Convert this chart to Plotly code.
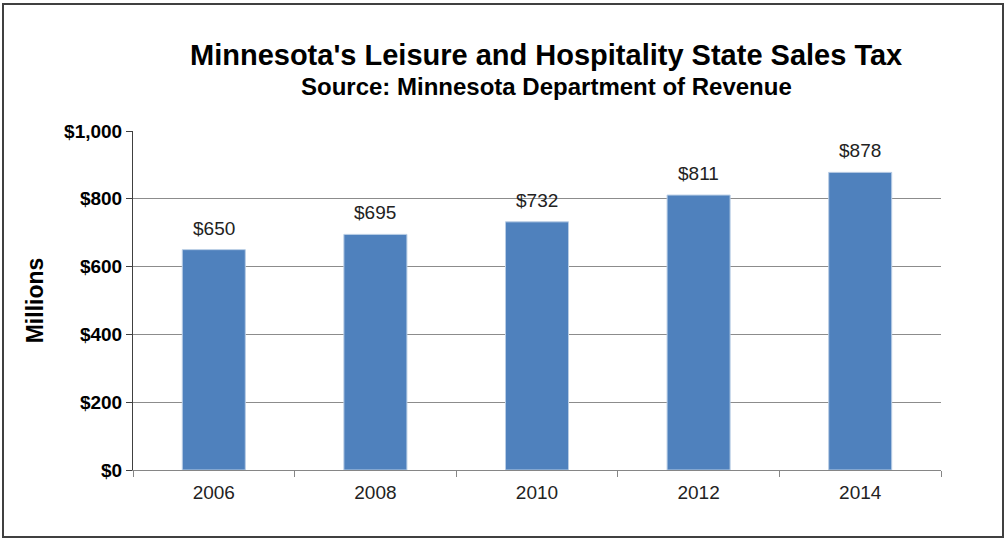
import plotly.graph_objects as go

years = ["2006", "2008", "2010", "2012", "2014"]
tax_millions = [650, 695, 732, 811, 878]
labels = ["$650", "$695", "$732", "$811", "$878"]

W, H = 1007, 540
ml, mr, mt, mb = 133, 66, 131, 70
pw, ph = W - ml - mr, H - mt - mb

def px_x(x):
    return (x - ml) / pw

def px_y(y):
    return (H - mb - y) / ph

font = "Liberation Sans, Arial, sans-serif"

fig = go.Figure()
fig.add_trace(go.Bar(
    x=years, y=tax_millions,
    marker=dict(color="#4F81BD", line=dict(color="#B9CDE5", width=1)),
    hoverinfo="x+y",
))

for i, (v, lab) in enumerate(zip(tax_millions, labels)):
    fig.add_annotation(x=i, y=v, xref="x", yref="y", text=lab, showarrow=False,
                       xanchor="center", yanchor="bottom", yshift=9,
                       font=dict(family=font, size=19, color="#222222"))

fig.add_annotation(x=px_x(546), y=px_y(55), xref="paper", yref="paper",
                   xanchor="center", yanchor="middle",
                   text="<b>Minnesota's Leisure and Hospitality State Sales Tax</b>",
                   showarrow=False, font=dict(family=font, size=29, color="#000000"))
fig.add_annotation(x=px_x(546), y=px_y(86), xref="paper", yref="paper",
                   xanchor="center", yanchor="middle",
                   text="<b>Source: Minnesota Department of Revenue</b>",
                   showarrow=False, font=dict(family=font, size=24, color="#000000"))

fig.add_shape(type="rect", xref="paper", yref="paper",
              x0=px_x(3), x1=px_x(1003), y0=px_y(537), y1=px_y(4),
              line=dict(color="#404040", width=2))

fig.update_layout(
    width=W, height=H,
    margin=dict(l=ml, r=mr, t=mt, b=mb),
    paper_bgcolor="white", plot_bgcolor="white",
    bargap=0.61,
    showlegend=False,
    font=dict(family=font),
)
fig.update_xaxes(
    type="category", range=[-0.5, 4.5],
    showline=True, linecolor="#868686", linewidth=1,
    ticks="outside", tickson="boundaries", ticklen=6, tickcolor="#868686",
    ticklabelstandoff=5,
    tickfont=dict(family=font, size=19, color="#222222"),
    showgrid=False,
)
fig.update_yaxes(
    range=[0, 1000], dtick=200,
    tickprefix="$", tickformat=",d",
    showline=True, linecolor="#404040", linewidth=1,
    ticks="outside", ticklen=6, tickcolor="#404040",
    tickfont=dict(family=font, size=19, color="#000000", weight="bold"),
    showgrid=True, gridcolor="#8C8C8C", gridwidth=1,
    zeroline=False,
    title=dict(text="<b>Millions</b>", font=dict(family=font, size=23, color="#000000"), standoff=14),
)

fig.write_html("out.html", config={"displayModeBar": False},
               post_script="document.body.style.margin='0';")
